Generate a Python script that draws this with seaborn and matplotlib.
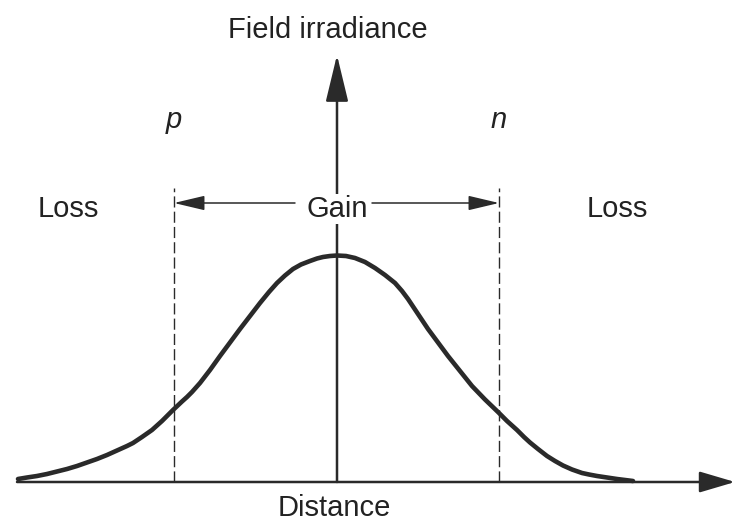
import numpy as np
import pandas as pd
import seaborn as sns
from matplotlib import pyplot as plt

# curve: distance from the axis (px) vs height above baseline (px)
distance = [-319, -310, -300, -290, -280, -270, -260, -250, -240, -230, -220, -210, -204,
            -195, -185, -175, -164, -155, -150, -145, -137, -127, -117, -107, -97, -87,
            -77, -68, -60, -52, -44, -36, -27, -20, -14, -7, 0,
            9, 18, 28, 38, 48, 58, 65, 71, 81, 91, 101, 111, 123, 135, 148, 161, 170,
            180, 187, 193, 201, 210, 218, 226, 235, 245, 252, 260, 270, 280, 288, 296]
irradiance = [3, 4.5, 6, 8, 10.5, 13, 16, 19.5, 23, 27, 31.5, 36, 39,
              45, 52, 61, 72, 80.5, 85, 90, 99, 112, 126, 139.5, 153, 166,
              179, 190, 199, 206.5, 213, 217.5, 221, 223.5, 225, 226, 226.5,
              226, 224, 220, 214, 207, 199, 191, 183, 168, 153, 139.5, 126, 111, 96, 82.5, 70, 61,
              52, 45, 39.5, 33, 26, 21, 16.5, 12.5, 9, 7.5, 6, 4.5, 3, 2, 1]

# p and n junction edges
edge_labels = ['p', 'n']
edge_pos = [-163, 162]
region_labels = ['Loss', 'Gain', 'Loss']
region_pos = [-269, 0, 280]

x_label = 'Distance'
y_label = 'Field irradiance'

sns.set_style('white')
plt.rcParams['font.family'] = ['Liberation Sans', 'DejaVu Sans']

ink = '#2a2a2a'
df = pd.DataFrame({'distance': distance, 'irradiance': irradiance})

fig = plt.figure(figsize=(7.38, 5.21), dpi=100)
ax = fig.add_axes([0, 0, 1, 1])

# axes with arrow heads
ax.annotate('', xy=(398, 0), xytext=(-320, 0),
            arrowprops=dict(arrowstyle='-|>,head_length=2.2,head_width=0.65',
                            lw=1.8, color=ink, shrinkA=0, shrinkB=0))
ax.annotate('', xy=(0, 427), xytext=(0, 0),
            arrowprops=dict(arrowstyle='-|>,head_length=2.9,head_width=0.7',
                            lw=1.8, color=ink, shrinkA=0, shrinkB=0))

# dashed junction boundaries
for xp in edge_pos:
    ax.plot([xp, xp], [0, 294], color=ink, lw=1.0, ls=(0, (8, 3)))

sns.lineplot(data=df, x='distance', y='irradiance', color=ink, linewidth=3.3,
             ax=ax, solid_capstyle='round', solid_joinstyle='round')
ax.set_xlim(-337, 401)
ax.set_ylim(-39, 482)
ax.axis('off')

# gain arrows
ax.annotate('', xy=(edge_pos[0], 279), xytext=(-42, 279),
            arrowprops=dict(arrowstyle='-|>,head_length=1.9,head_width=0.45',
                            lw=1.1, color=ink, shrinkA=0, shrinkB=0))
ax.annotate('', xy=(edge_pos[1], 279), xytext=(35, 279),
            arrowprops=dict(arrowstyle='-|>,head_length=1.9,head_width=0.45',
                            lw=1.1, color=ink, shrinkA=0, shrinkB=0))

fs = 21
for lab, xp in zip(region_labels, region_pos):
    ax.text(xp, 265, lab, fontsize=fs, ha='center', va='baseline', color='#222222',
            bbox=dict(fc='white', ec='none', pad=1))
for lab, xp in zip(edge_labels, edge_pos):
    ax.text(xp, 354, lab, fontsize=fs, ha='center', va='baseline', style='italic',
            color='#222222')

ax.text(-9, 444, y_label, fontsize=fs, ha='center', va='baseline', color='#222222')
ax.text(-3, -34, x_label, fontsize=fs, ha='center', va='baseline', color='#222222')

fig.savefig('out.png', dpi=100)
